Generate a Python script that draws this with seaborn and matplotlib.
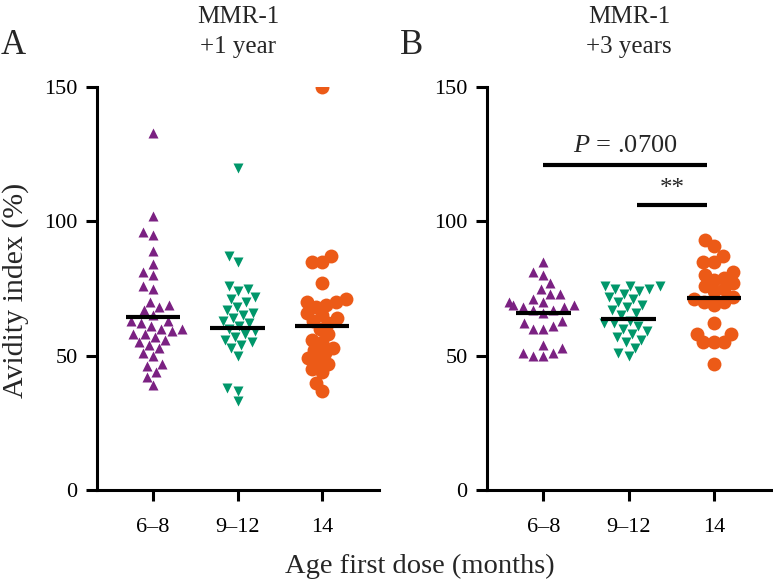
import numpy as np
import pandas as pd
import matplotlib
matplotlib.use("Agg")
import matplotlib.pyplot as plt
import seaborn as sns

# ---------------- data ----------------
categories = ["6\u20138", "9\u201312", "14"]

a_6_8 = [133, 102, 96, 95, 89, 84, 81, 80, 76, 75, 70, 69, 68, 67, 65, 63, 63, 62,
         61, 60, 60, 59, 58, 58, 57, 56, 55, 54, 53, 51, 50, 47, 46, 44, 42, 39]
a_9_12 = [120, 87, 85, 76, 75, 74, 72, 71, 70, 68, 67, 66, 65, 64, 63, 62, 61, 60,
          59, 58, 57, 56, 55, 54, 53, 50, 38, 37, 33]
a_14 = [150, 87, 85, 85, 77, 71, 70, 70, 69, 68, 66, 65, 64, 63, 62, 60, 58, 56,
        55, 53, 52, 51, 49, 48, 47, 45, 44, 40, 37]

b_6_8 = [85, 81, 80, 77, 75, 73, 73, 71, 70, 70, 69, 69, 68, 68, 67, 67, 66, 63,
         62, 61, 60, 60, 54, 53, 51, 51, 50, 50]
b_9_12 = [76, 76, 76, 75, 75, 74, 73, 72, 71, 70, 69, 68, 67, 66, 65, 63, 62, 62,
          61, 60, 59, 58, 57, 56, 55, 53, 51, 50]
b_14 = [93, 91, 87, 85, 85, 81, 80, 79, 78, 77, 76, 75, 74, 72, 71, 70, 70, 69,
        62, 58, 58, 55, 55, 55, 47]

means_a = [64.4, 60.2, 61.0]
means_b = [65.8, 63.6, 71.6]

yticks = [0, 50, 100, 150]
title_lines = [("MMR-1", "+1 year"), ("MMR-1", "+3 years")]
panel_letters = ["A", "B"]
p_text = r"$\mathit{P}$ = .0700"
star_text = "**"

colors = ["#7b2182", "#00976a", "#ec5a17"]
markers = ["^", "v", "o"]
edge_w = [0.4, 0.4, 0.0]
draw_sizes = [12.5, 12.5, 10.0]   # drawn marker sizes (pt)

# ---------------- style ----------------
sns.set_theme(style="ticks")
plt.rcParams["font.family"] = ["Liberation Serif", "DejaVu Serif"]
plt.rcParams["mathtext.fontset"] = "custom"
plt.rcParams["mathtext.it"] = "Liberation Serif:italic"
plt.rcParams["mathtext.rm"] = "Liberation Serif"

W, H = 773, 581
fig = plt.figure(figsize=(W / 100, H / 100), dpi=100)

def fx(px):
    return px / W

def fy(py):
    return 1 - py / H

ax_bottom, ax_top = 490, 87
axes_px = [(97, 379), (487, 771)]
axes = []
for (l, r) in axes_px:
    ax = fig.add_axes([fx(l), fy(ax_bottom), (r - l) / W, (ax_bottom - ax_top) / H])
    axes.append(ax)

panels = [
    ([a_6_8, a_9_12, a_14], means_a),
    ([b_6_8, b_9_12, b_14], means_b),
]

layout_size = 7.2   # swarm packing size (points overlap a bit like the original)

swarm_colls = []
for ax, (groups, means) in zip(axes, panels):
    for i, (vals, cat) in enumerate(zip(groups, categories)):
        df = pd.DataFrame({"group": [cat] * len(vals), "value": vals})
        sns.swarmplot(data=df, x="group", y="value", order=categories, ax=ax,
                      color=colors[i], marker=markers[i], size=layout_size,
                      linewidth=0, warn_thresh=1.0)
        swarm_colls.append((ax, ax.collections[-1], i))
    idx = np.arange(len(categories))
    ax.hlines(means, idx - 0.32, idx + 0.32, colors="black", linewidth=3.0, zorder=5)

    ax.set_ylim(0, 150)
    ax.set_xlim(-0.66, 2.67)
    ax.set_yticks(yticks)
    ax.set_xlabel("")
    ax.set_ylabel("")
    for s in ["top", "right"]:
        ax.spines[s].set_visible(False)
    for s in ["left", "bottom"]:
        ax.spines[s].set_linewidth(2.2)
        ax.spines[s].set_color("black")
    ax.tick_params(axis="both", width=2.2, length=8, labelsize=16, colors="black")
    ax.tick_params(axis="y", pad=6)
    ax.tick_params(axis="x", pad=12)

# let seaborn compute the swarm positions, then redraw the marks larger
fig.canvas.draw()
for ax, coll, i in swarm_colls:
    offs = np.asarray(coll.get_offsets())
    coll.remove()
    ax.scatter(offs[:, 0], offs[:, 1], s=draw_sizes[i] ** 2, marker=markers[i],
               color=colors[i], edgecolors="white", linewidths=edge_w[i], zorder=3)

for ax, (l, r), (t1, t2), letter in zip(axes, axes_px, title_lines, panel_letters):
    cx = (l + r) / 2
    fig.text(fx(cx), fy(17), t1, fontsize=18, ha="center", va="center")
    fig.text(fx(cx), fy(47), t2, fontsize=18, ha="center", va="center")

fig.text(fx(13), fy(45), "A", fontsize=25, ha="center", va="center")
fig.text(fx(412), fy(45), "B", fontsize=25, ha="center", va="center")

fig.text(fx(16), fy(290), "Avidity index (%)", rotation=90, fontsize=21.5,
         ha="center", va="center")
fig.text(fx(420), fy(566), "Age first dose (months)", fontsize=20.5,
         ha="center", va="center")

# significance annotations on panel B
axb = axes[1]
axb.plot([0.0, 1.92], [121, 121], color="black", linewidth=3.0, solid_capstyle="butt")
axb.text(0.96, 124, p_text, fontsize=19, ha="center", va="bottom")
axb.plot([1.1, 1.92], [106, 106], color="black", linewidth=3.0, solid_capstyle="butt")
axb.text(1.51, 108, star_text, fontsize=18, ha="center", va="bottom")

fig.savefig("out.png", dpi=100)
